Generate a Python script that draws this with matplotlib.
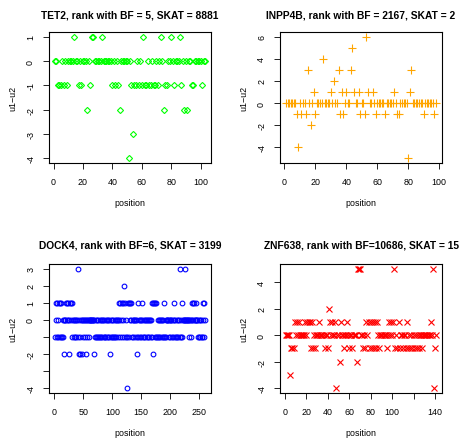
import numpy as np
import matplotlib
matplotlib.use("Agg")
import matplotlib.pyplot as plt

plt.rcParams['font.family'] = ['Liberation Sans', 'DejaVu Sans']
plt.rcParams['axes.unicode_minus'] = False

# ---- data: u1-u2 value at each position (position = index starting at 1) ----
tet2_title = "TET2, rank with BF = 5, SKAT = 8881"
tet2_u = [0, 0, -1, -1, -1, 0, -1, 0, -1, 0,
          0, 0, 0, 1, 0, 0, -1, 0, -1, 0,
          0, 0, -2, 0, -1, 1, 1, 0, 0, 0,
          0, 0, 1, 0, 0, 0, 0, 0, 0, -1,
          0, -1, 0, -1, -2, 0, 0, 0, 0, 0,
          -4, 0, -1, -3, -1, -1, 0, -1, 0, -1,
          1, -1, -1, 0, -1, -1, 0, -1, -1, 0,
          -1, 0, 1, 0, -2, -1, -1, 0, 0, 1,
          0, -1, 0, 0, 0, 1, -1, 0, -2, 0,
          -2, 0, 0, -1, -1, 0, 0, 0, 0, 0,
          -1, 0, 0]
tet2_yticks = [-4, -3, -2, -1, 0, 1]
tet2_ylabels = ["-4", "-3", "-2", "-1", "0", "1"]
tet2_xticks = [0, 20, 40, 60, 80, 100]
tet2_xlabels = ["0", "20", "40", "60", "80", "100"]

inpp4b_title = "INPP4B, rank with BF = 2167, SKAT = 2"
inpp4b_u = [0, 0, 0, 0, 0, 0, 0, -1, -4, 0,
            -1, 0, 0, -1, 3, 0, -2, 0, 1, -1,
            0, 0, 0, 0, 4, 0, 0, 0, 0, 1,
            0, 2, 0, 0, 3, -1, 1, -1, 0, 1,
            0, 0, 3, 5, 1, 0, 0, 1, -1, 0,
            0, -1, 6, 1, 0, 0, 1, 0, -1, 0,
            0, 0, 0, 0, -1, 0, 0, 0, 0, 0,
            1, 0, -1, -1, 0, 0, 0, 0, 0, -5,
            1, 3, 0, 0, 0, 0, 0, 0, 0, -1,
            0, 0, 0, 0, 0, 0, -1, 0]
inpp4b_yticks = [-4, -2, 0, 2, 4, 6]
inpp4b_ylabels = ["-4", "-2", "0", "2", "4", "6"]
inpp4b_xticks = [0, 20, 40, 60, 80, 100]
inpp4b_xlabels = ["0", "20", "40", "60", "80", "100"]

dock4_title = "DOCK4, rank with BF=6, SKAT = 3199"
dock4_u = [-1, 0, 1, -1, 1, -1, 0, 1, -1, 1,
           -1, 1, -1, 0, -1, 0, -2, 0, 0, 1,
           0, 1, 0, 1, -2, 0, 1, 0, 1, -1,
           1, 0, -1, 0, -1, 0, 0, -1, 0, 3,
           -1, -2, 0, -1, -2, 0, -2, 0, -1, 0,
           0, -1, 0, 0, -2, 0, -1, 0, 0, -1,
           0, 0, 0, 0, 0, 0, 0, -2, 0, -1,
           -1, 0, -1, 0, -1, 0, -1, 0, -1, 0,
           -1, 0, -1, 0, -1, 0, -1, -1, 0, -1,
           0, -1, 0, -1, 0, -2, -1, 0, -1, 0,
           -1, 0, -1, 0, -1, 0, -1, 0, -1, 0,
           0, 1, -1, 1, 0, 1, -1, 1, 0, -1,
           2, 1, -1, 0, -4, -1, 1, -1, 1, 0,
           1, 0, 1, -1, 0, -1, 0, 0, -1, 0,
           0, -1, -2, 1, -1, 0, 0, -1, 0, -1,
           0, 1, -1, 0, -1, 0, -1, 0, -1, 0,
           0, -1, 0, -1, 0, -1, 0, 1, -1, 1,
           -2, 1, -1, 1, -1, 1, -1, 0, -1, 0,
           -1, 0, -1, 0, -1, 0, -1, 0, -1, 1,
           -1, 0, -1, 0, 0, 0, -1, 0, 0, -1,
           0, 0, -1, 0, -1, 0, 1, -1, 0, -1,
           0, -1, 0, -1, 0, -1, 3, -1, 0, 1,
           -1, 0, 0, 0, 0, 3, 0, 0, 0, 0,
           0, 0, -1, 0, -1, 0, 1, 0, 1, 0,
           1, 0, 0, 1, 0, 0, 0, -1, 0, -1,
           0, -1, 0, -1, -1, 0, 1, 1, -1, 0]
dock4_yticks = [-4, -3, -2, -1, 0, 1, 2, 3]
dock4_ylabels = ["-4", "", "-2", "", "0", "1", "2", "3"]
dock4_xticks = [0, 50, 100, 150, 200, 250]
dock4_xlabels = ["0", "50", "100", "150", "200", "250"]

znf638_title = "ZNF638, rank with BF=10686, SKAT = 15"
znf638_u = [0, 0, 0, 0, -3, -1, -1, -1, 1, 0,
            1, 0, 1, 0, 0, 0, 0, 0, 1, 0,
            1, 1, 1, -1, 1, -1, 0, -1, 0, 0,
            0, 1, 0, 0, 0, 0, -1, 0, 0, -1,
            2, 1, 0, 1, 0, 0, 1, -4, 0, 0,
            -2, 1, 0, 0, -1, 0, 0, 1, 0, -1,
            0, 0, -1, 0, 0, 0, -2, 5, 5, 5,
            0, 0, -1, 0, -1, 1, 0, 1, -1, 1,
            -1, 1, -1, 1, -1, 1, 0, -1, 0, 0,
            0, 0, 0, 0, -1, 0, 1, 0, 1, 0,
            1, 5, -1, 0, -1, 1, -1, 0, 0, -1,
            0, 0, -1, 1, -1, 0, -1, 0, -1, 0,
            -1, 0, -1, 0, -1, 0, 0, -1, 0, 0,
            0, 0, 0, 0, 0, 1, 0, 5, -4, -1,
            0]
znf638_yticks = [-4, -2, 0, 2, 4]
znf638_ylabels = ["-4", "-2", "0", "2", "4"]
znf638_xticks = [0, 20, 40, 60, 80, 100, 120, 140]
znf638_xlabels = ["0", "20", "40", "60", "80", "100", "", "140"]

# ---- figure ----
W, H = 465, 439
fig = plt.figure(figsize=(W / 100, H / 100), dpi=100)


def box(l, t, r, b):
    return [l / W, 1 - b / H, (r - l) / W, (b - t) / H]


panels = [
    (box(49, 33, 211, 164), tet2_u, tet2_title, 'D', '#00FF00', 3.1, 10.5,
     tet2_xticks, tet2_xlabels, tet2_yticks, tet2_ylabels),
    (box(280, 33, 442, 164), inpp4b_u, inpp4b_title, '+', '#FFA500', 6.0, 10.5,
     inpp4b_xticks, inpp4b_xlabels, inpp4b_yticks, inpp4b_ylabels),
    (box(49, 265, 211, 394), dock4_u, dock4_title, 'o', '#0000FF', 3.4, 12,
     dock4_xticks, dock4_xlabels, dock4_yticks, dock4_ylabels),
    (box(280, 265, 442, 394), znf638_u, znf638_title, 'x', '#FF0000', 4.0, 12,
     znf638_xticks, znf638_xlabels, znf638_yticks, znf638_ylabels),
]

for rect, u, title, mk, col, ms, tpad, xt, xl, yt, yl in panels:
    ax = fig.add_axes(rect)
    pos = np.arange(1, len(u) + 1)
    ax.plot(pos, u, linestyle='none', marker=mk, markersize=ms,
            markerfacecolor='none', markeredgecolor=col, markeredgewidth=0.8)
    ax.margins(x=0.04, y=0.04)
    ax.set_xticks(xt)
    ax.set_xticklabels(xl)
    ax.set_yticks(yt)
    ax.set_yticklabels(yl, rotation=90, va='center')
    ax.tick_params(direction='out', length=4, width=0.6, labelsize=6.4,
                   pad=6, colors='black')
    for s in ax.spines.values():
        s.set_linewidth(0.8)
    ax.set_title(title, fontsize=7.4, fontweight='bold', pad=tpad)
    ax.set_xlabel('position', fontsize=6.4, labelpad=9)
    ax.set_ylabel('u1\u2212u2', fontsize=6.4, labelpad=6.5)

fig.savefig('out.png', dpi=100)
